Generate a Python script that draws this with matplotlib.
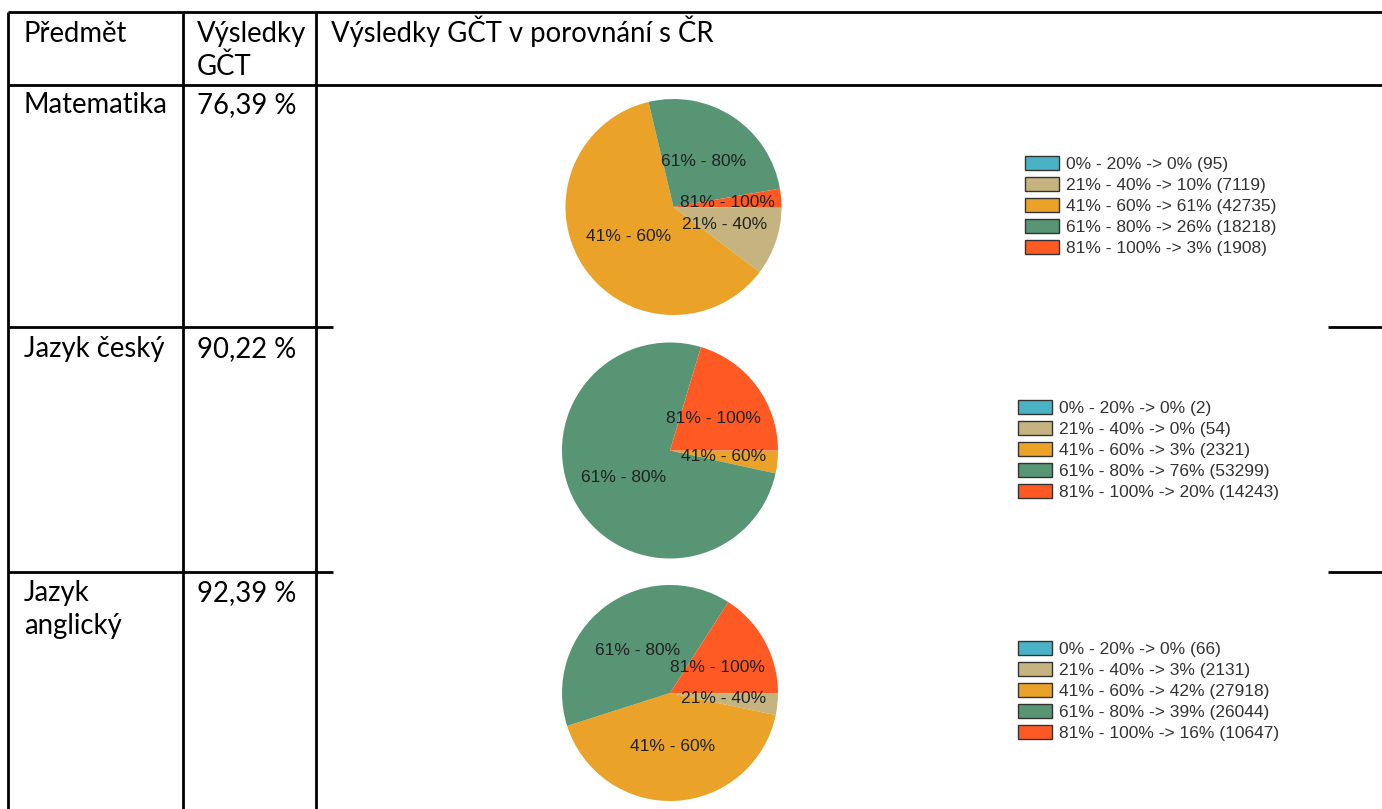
import matplotlib.pyplot as plt
from matplotlib.lines import Line2D

W, H = 1382, 809

# data
ranges = ["0% - 20%", "21% - 40%", "41% - 60%", "61% - 80%", "81% - 100%"]
colors = ["#4bb2c5", "#c5b47f", "#eaa228", "#579575", "#ff5a24"]

subjects = ["Matematika", "Jazyk český", "Jazyk\nanglický"]
gct_results = ["76,39 %", "90,22 %", "92,39 %"]
counts_mat = [95, 7119, 42735, 18218, 1908]
counts_cj = [2, 54, 2321, 53299, 14243]
counts_aj = [66, 2131, 27918, 26044, 10647]

header = ["Předmět", "Výsledky\nGČT", "Výsledky GČT v porovnání s ČR"]

TABLE_FONT = "Lato"
PIE_FONT = "Liberation Sans"
LINE_PITCH = 33

fig = plt.figure(figsize=(W / 100, H / 100), dpi=100)
ax = fig.add_axes([0, 0, 1, 1])
ax.set_xlim(0, W)
ax.set_ylim(H, 0)
ax.axis("off")

# table grid
lw = 2.0
segs = [((8, 12), (W, 12)),
        ((8, 12), (8, H)),
        ((183, 12), (183, H)),
        ((316, 12), (316, H)),
        ((8, 85), (W, 85)),
        ((8, 327), (333, 327)), ((1328, 327), (W, 327)),
        ((8, 572), (333, 572)), ((1328, 572), (W, 572))]
for (x0, y0), (x1, y1) in segs:
    ax.add_line(Line2D([x0, x1], [y0, y1], color="black", lw=lw, solid_capstyle="butt"))

txt_kw = dict(fontsize=19.8, family=TABLE_FONT, color="black", va="baseline", ha="left")


def cell_text(x, y, s):
    # word-style cell text, one line at a time
    for i, line in enumerate(s.split("\n")):
        ax.text(x, y + i * LINE_PITCH, line, **txt_kw)


cell_text(24, 42, header[0])
cell_text(197, 42, header[1])
cell_text(331, 42, header[2])

row_base = [113, 357, 601]
for subj, res, yb in zip(subjects, gct_results, row_base):
    cell_text(24, yb, subj)
    cell_text(197, yb, res)


def draw_pie(counts, cx, cy, r, leg_x, leg_top):
    total = sum(counts)
    pcts = [round(c / total * 100) for c in counts]
    pax = fig.add_axes([(cx - r) / W, 1 - (cy + r) / H, 2 * r / W, 2 * r / H])
    labels = [rng if p >= 1 else "" for rng, p in zip(ranges, pcts)]
    wedges, texts = pax.pie(counts, colors=colors, startangle=0, counterclock=False,
                            labels=labels, labeldistance=0.5,
                            wedgeprops=dict(linewidth=0),
                            textprops=dict(fontsize=12.5, family=PIE_FONT, color="#222222"))
    for t in texts:
        t.set_horizontalalignment("center")
    pax.set_xlim(-1, 1)
    pax.set_ylim(-1, 1)
    pax.set_aspect("auto")

    leg_handles = [plt.Rectangle((0, 0), 1, 1, facecolor=c, edgecolor="#333333", lw=1)
                   for c in colors]
    leg_labels = [f"{rng} -> {p}% ({n})" for rng, p, n in zip(ranges, pcts, counts)]
    fig.legend(leg_handles, leg_labels, loc="upper left",
               bbox_to_anchor=(leg_x / W, 1 - leg_top / H),
               frameon=False, borderpad=0, borderaxespad=0,
               handlelength=1.95, handleheight=0.86, handletextpad=0.4,
               labelspacing=0.29,
               prop=dict(family=PIE_FONT, size=12.5), labelcolor="#333333")


draw_pie(counts_mat, 673.5, 207, 108, 1025, 156)
draw_pie(counts_cj, 670, 450.5, 108, 1018, 400)
draw_pie(counts_aj, 670, 693, 108, 1018, 641)

fig.savefig("out.png", dpi=100)
